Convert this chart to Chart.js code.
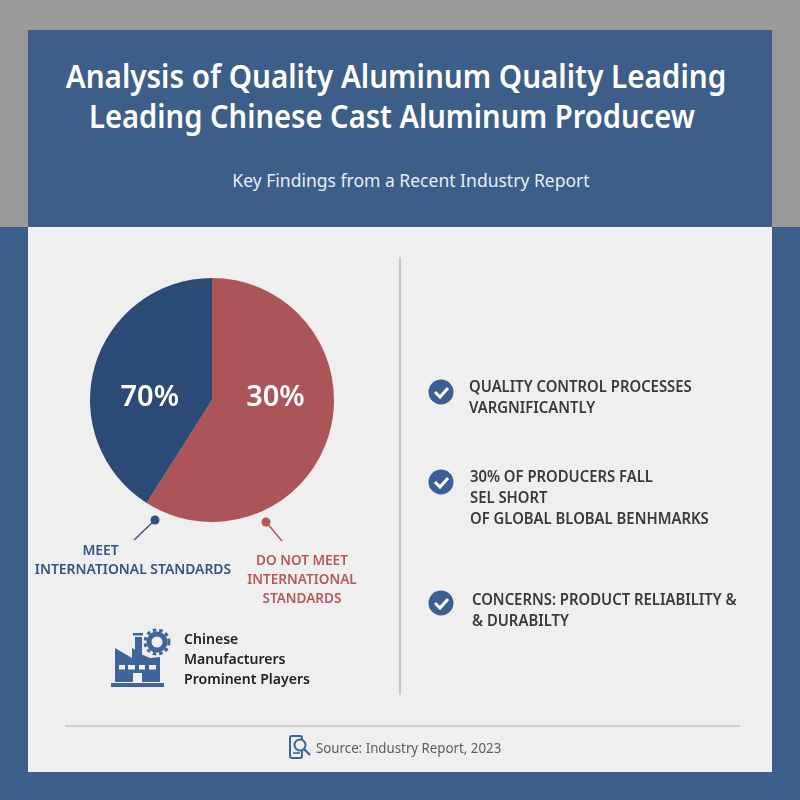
<!DOCTYPE html>
<html>
<head>
<meta charset="utf-8">
<script src="https://cdn.jsdelivr.net/npm/chart.js@4"></script>
<style>
  html, body { margin: 0; padding: 0; }
  body { width: 800px; height: 800px; position: relative; overflow: hidden; background: #3c5f8b; font-family: "Noto Sans", sans-serif; }
  .abs { position: absolute; }
  .txt { position: absolute; white-space: nowrap; transform-origin: left top; }
  .mid { transform-origin: center top; text-align: center; }
  #top { left: 0; top: 0; width: 800px; height: 227px; background: #9a9a9a; }
  #head { left: 28px; top: 30px; width: 744px; height: 197px; background: #3c5e88; }
  #panel { left: 28px; top: 227px; width: 744px; height: 545px; background: #efefef; }
  #vline { left: 399px; top: 257px; width: 2px; height: 438px; background: #c4c4c4; }
  #hline { left: 65px; top: 725px; width: 675px; height: 2px; background: #cdcdcd; }
  #pieBox { position: absolute; left: 80px; top: 268px; width: 264px; height: 264px; }
  .title { color: #fff; font-size: 31.5px; font-weight: 600; line-height: 40px; }
  .pt { color: #3a3a3a; font-size: 16.5px; font-weight: 600; line-height: 21px; transform: scaleX(0.9); }
  .lab { font-size: 15px; font-weight: 600; line-height: 19px; }
</style>
</head>
<body>
<div class="abs" id="top"></div>
<div class="abs" id="head"></div>
<div class="abs" id="panel"></div>
<div class="abs" id="vline"></div>
<div class="abs" id="hline"></div>

<div class="txt mid title" style="left:396px;top:56px;transform:translateX(-50%) scaleX(0.94)">Analysis of Quality Aluminum Quality Leading</div>
<div class="txt mid title" style="left:392px;top:96px;transform:translateX(-50%) scaleX(0.925)">Leading Chinese Cast Aluminum Producew</div>
<div class="txt mid" style="left:410.5px;top:167px;color:#e8edf3;font-size:18.5px;transform:translateX(-50%) scaleX(0.947)">Key Findings from a Recent Industry Report</div>

<div id="pieBox"><canvas id="pie" width="264" height="264"></canvas></div>

<svg class="abs" style="left:0;top:0" width="800" height="800" viewBox="0 0 800 800">
  <!-- leader lines -->
  <line x1="155" y1="520" x2="134" y2="540" stroke="#3c5f8b" stroke-width="1.6"/>
  <circle cx="155" cy="520" r="4.5" fill="#2f5280"/>
  <line x1="266" y1="522" x2="282" y2="541" stroke="#b5585c" stroke-width="1.6"/>
  <circle cx="266" cy="522" r="4.5" fill="#b5585c"/>
  <!-- factory -->
  <g fill="#3f659b">
    <rect x="111" y="683" width="53" height="4"/>
    <path d="M115 648 L132 658 V648 L143 655 L150 658 L160 657 V682 H115 Z"/>
    <rect x="135" y="637" width="7" height="18"/>
    <rect x="133" y="633" width="10" height="2.5"/>
  </g>
  <g fill="#efefef">
    <rect x="119" y="665" width="6" height="4.5"/><rect x="128" y="665" width="7" height="4.5"/>
    <rect x="139" y="665" width="6" height="4.5"/><rect x="149" y="665" width="7" height="4.5"/>
    <rect x="133" y="673" width="9" height="10"/>
  </g>
  <circle cx="157" cy="642" r="11" fill="#efefef"/>
  <circle cx="157" cy="642" r="8" fill="none" stroke="#3f659b" stroke-width="5"/>
  <circle cx="157" cy="642" r="12" fill="none" stroke="#3f659b" stroke-width="3" stroke-dasharray="3.5 3"/>
  <!-- check marks -->
  <g id="checks">
    <circle cx="441" cy="392" r="12.5" fill="#3b5f94"/><path d="M435 392 L440 397 L448 388" fill="none" stroke="#fff" stroke-width="3"/>
    <circle cx="441" cy="482" r="12.5" fill="#3b5f94"/><path d="M435 482 L440 487 L448 478" fill="none" stroke="#fff" stroke-width="3"/>
    <circle cx="441" cy="603" r="12.5" fill="#3b5f94"/><path d="M435 603 L440 608 L448 599" fill="none" stroke="#fff" stroke-width="3"/>
  </g>
  <!-- source icon -->
  <rect x="290" y="736" width="12" height="22" rx="2" fill="none" stroke="#3b6599" stroke-width="2"/>
  <circle cx="300" cy="745" r="5.5" fill="#efefef" stroke="#3b6599" stroke-width="2"/>
  <line x1="304" y1="749" x2="310" y2="755" stroke="#3b6599" stroke-width="2.4"/>
  <line x1="293" y1="753" x2="300" y2="753" stroke="#3b6599" stroke-width="1.6"/>
</svg>

<div class="txt mid lab" style="left:132.5px;top:540px;color:#33547f;transform:translateX(-50%) scaleX(0.925)"><span style="position:relative;left:-35px">MEET</span><br>INTERNATIONAL STANDARDS</div>
<div class="txt mid lab" style="left:301.5px;top:550px;color:#b5585c;transform:translateX(-50%) scaleX(0.904)">DO NOT MEET<br>INTERNATIONAL<br>STANDARDS</div>

<div class="txt" style="left:184px;top:628px;color:#222;font-size:14.5px;font-weight:600;line-height:20px;transform:scaleX(0.97)">Chinese<br>Manufacturers<br>Prominent Players</div>

<div class="txt pt" style="left:469px;top:375px">QUALITY CONTROL PROCESSES<br>VARGNIFICANTLY</div>
<div class="txt pt" style="left:470px;top:465px">30% OF PRODUCERS FALL<br>SEL SHORT<br>OF GLOBAL BLOBAL BENHMARKS</div>
<div class="txt pt" style="left:472px;top:588px">CONCERNS: PRODUCT RELIABILITY &amp;<br>&amp; DURABILTY</div>

<div class="txt" style="left:316px;top:737px;color:#5c5c5c;font-size:14.5px;transform:scaleX(0.916)">Source: Industry Report, 2023</div>

<script>
// slices as drawn, starting at 12 o'clock going clockwise
const categories = ["Do not meet international standards", "Meet international standards"];
const sliceValues = [59, 41];
const sliceLabels = ["30%", "70%"]; // printed on the chart, differs from the slice sizes
const sliceColors = ["#ab5558", "#2b4a75"];

// writes the percent text on each slice, on one row either side of the centre
const percentLabels = {
  id: "percentLabels",
  afterDatasetsDraw(chart) {
    const ctx = chart.ctx;
    const arcs = chart.getDatasetMeta(0).data;
    ctx.save();
    ctx.fillStyle = "#fff";
    ctx.font = "600 29px 'Noto Sans'";
    ctx.textAlign = "center";
    ctx.textBaseline = "middle";
    arcs.forEach(function (arc, i) {
      const dir = i === 0 ? 0.52 : -0.51;
      ctx.fillText(sliceLabels[i], arc.x + dir * arc.outerRadius, arc.y - 2);
    });
    ctx.restore();
  },
};

new Chart(document.getElementById("pie"), {
  type: "pie",
  data: {
    labels: categories,
    datasets: [{ data: sliceValues, backgroundColor: sliceColors, borderWidth: 0 }],
  },
  options: {
    responsive: false,
    animation: false,
    layout: { padding: 10 },
    plugins: { legend: { display: false }, tooltip: { enabled: false } },
  },
  plugins: [percentLabels],
});
</script>
</body>
</html>
